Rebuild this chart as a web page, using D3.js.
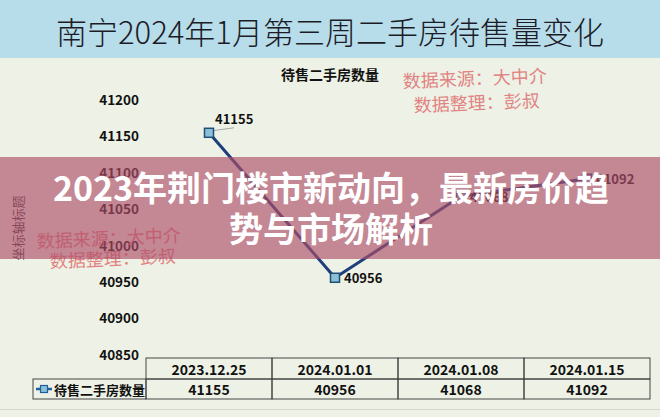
<!DOCTYPE html>
<html><head><meta charset="utf-8">
<script src="https://cdn.jsdelivr.net/npm/d3@7"></script>
<style>html,body{margin:0;padding:0;background:#eef2e6;}svg{display:block;}</style>
</head><body>
<svg id="c" width="660" height="417"></svg>
<script>
const categories = ["2023.12.25", "2024.01.01", "2024.01.08", "2024.01.15"];
const values = [41155, 40956, 41068, 41092];
const yTicks = [40850, 40900, 40950, 41000, 41050, 41100, 41150, 41200];
const seriesName = "待售二手房数量";
const mainTitle = "南宁2024年1月第三周二手房待售量变化";
const axisTitle = "坐标轴标题";
const watermark = ["数据来源：大中介", "数据整理：彭叔"];
const bannerLines = ["2023年荆门楼市新动向，最新房价趋", "势与市场解析"];

const FONT = "'Noto Sans CJK SC','Noto Sans',sans-serif";
const svg = d3.select("#c");

svg.append("rect").attr("width",660).attr("height",417).attr("fill","#eef2e6");
svg.append("rect").attr("width",660).attr("height",58).attr("fill","#b7dcea");
svg.append("text").attr("x",330).attr("y",44).attr("text-anchor","middle")
  .attr("font-family",FONT).attr("font-weight",300).attr("font-size",31).attr("fill","#1c1c28").text(mainTitle);

svg.append("text").attr("x",330).attr("y",80).attr("text-anchor","middle")
  .attr("font-family",FONT).attr("font-weight","bold").attr("font-size",14).attr("fill","#111").text(seriesName);

const y = d3.scaleLinear().domain([40850, 41200]).range([355, 100]);
const x = d3.scaleBand().domain(categories).range([146, 650]).padding(0);
const cx = d => x(d) + x.bandwidth()/2;

const yAxis = svg.append("g").attr("transform","translate(139,0)")
  .call(d3.axisLeft(y).tickValues(yTicks).tickSize(0).tickPadding(0).tickFormat(d3.format("d")));
yAxis.select(".domain").remove();
yAxis.selectAll("text").attr("font-family",FONT).attr("font-weight","bold").attr("font-size",13.5).attr("fill","#111");

svg.append("text").attr("transform","translate(23,228) rotate(-90)").attr("text-anchor","middle")
  .attr("font-family",FONT).attr("font-size",13).attr("fill","#444").text(axisTitle);

const pts = categories.map((c,i)=>({c, v: values[i]}));
svg.append("path").datum(pts)
  .attr("d", d3.line().x(d=>cx(d.c)).y(d=>y(d.v)))
  .attr("fill","none").attr("stroke","#1f3f7a").attr("stroke-width",3).attr("stroke-linejoin","round");

svg.append("line").attr("x1",cx(categories[0])+3).attr("y1",y(values[0])-2)
  .attr("x2",cx(categories[0])+25).attr("y2",y(values[0])-5).attr("stroke","#a0a8a8").attr("stroke-width",1);

svg.selectAll("rect.mk").data(pts).join("rect").attr("class","mk")
  .attr("x",d=>cx(d.c)-4.5).attr("y",d=>y(d.v)-4.5).attr("width",9).attr("height",9)
  .attr("fill","#8cc0d6").attr("stroke","#1f4e79").attr("stroke-width",1.5);

svg.selectAll("text.lb").data(pts).join("text").attr("class","lb")
  .attr("x",(d,i)=> i===0 ? cx(d.c)+6 : cx(d.c)+9)
  .attr("y",(d,i)=> i===0 ? y(d.v)-14 : y(d.v))
  .attr("dominant-baseline","central")
  .attr("font-family",FONT).attr("font-weight","bold").attr("font-size",13).attr("fill","#111")
  .text(d=>d.v);

const t = svg.append("g");
const r1 = 358, r2 = 379, r3 = 399;
t.selectAll("rect.h").data(categories).join("rect").attr("class","h")
  .attr("x",d=>x(d)).attr("y",r1).attr("width",x.bandwidth()).attr("height",r2-r1)
  .attr("fill","none").attr("stroke","#444").attr("stroke-width",1);
t.selectAll("rect.v").data(categories).join("rect").attr("class","v")
  .attr("x",d=>x(d)).attr("y",r2).attr("width",x.bandwidth()).attr("height",r3-r2)
  .attr("fill","none").attr("stroke","#444").attr("stroke-width",1);
t.append("rect").attr("x",33).attr("y",r2).attr("width",146-33).attr("height",r3-r2)
  .attr("fill","none").attr("stroke","#444").attr("stroke-width",1);
t.selectAll("text.h").data(categories).join("text").attr("class","h")
  .attr("x",d=>cx(d)).attr("y",(r1+r2)/2).attr("dominant-baseline","central").attr("text-anchor","middle")
  .attr("font-family",FONT).attr("font-weight","bold").attr("font-size",14).attr("fill","#111").text(d=>d);
t.selectAll("text.v").data(pts).join("text").attr("class","v")
  .attr("x",d=>cx(d.c)).attr("y",(r2+r3)/2).attr("dominant-baseline","central").attr("text-anchor","middle")
  .attr("font-family",FONT).attr("font-weight","bold").attr("font-size",14).attr("fill","#111").text(d=>d.v);
t.append("line").attr("x1",36).attr("x2",52).attr("y1",389).attr("y2",389).attr("stroke","#1f5fa0").attr("stroke-width",2.5);
t.append("rect").attr("x",40.5).attr("y",385.5).attr("width",7).attr("height",7).attr("fill","#8cc0d6").attr("stroke","#1f5fa0").attr("stroke-width",1.2);
t.append("text").attr("x",54).attr("y",389).attr("dominant-baseline","central")
  .attr("font-family",FONT).attr("font-weight","bold").attr("font-size",13).attr("fill","#111").text(seriesName);

svg.append("line").attr("x1",0).attr("x2",660).attr("y1",409.5).attr("y2",409.5).attr("stroke","#d3d7cc").attr("stroke-width",1);

const wm = (x0,y0,x1,y1,rot) => {
  svg.append("text").attr("transform",`translate(${x0},${y0}) rotate(${rot})`)
    .attr("font-family",FONT).attr("font-size",18).attr("fill","#e07878").attr("opacity",0.9).text(watermark[0]);
  svg.append("text").attr("transform",`translate(${x1},${y1}) rotate(${rot})`)
    .attr("font-family",FONT).attr("font-size",18).attr("fill","#e07878").attr("opacity",0.9).text(watermark[1]);
};
wm(403,88,414,112,-2.3);
wm(37,248,50,268,-2.5);

svg.append("rect").attr("x",0).attr("y",157).attr("width",660).attr("height",102)
  .attr("fill","rgb(173,77,104)").attr("opacity",0.65);
bannerLines.forEach((s,i)=>{
  svg.append("text").attr("x",331).attr("y",i===0?201:242).attr("text-anchor","middle")
    .attr("font-family",FONT).attr("font-weight","bold").attr("font-size",34).attr("fill","#fff").text(s);
});
</script>
</body></html>
